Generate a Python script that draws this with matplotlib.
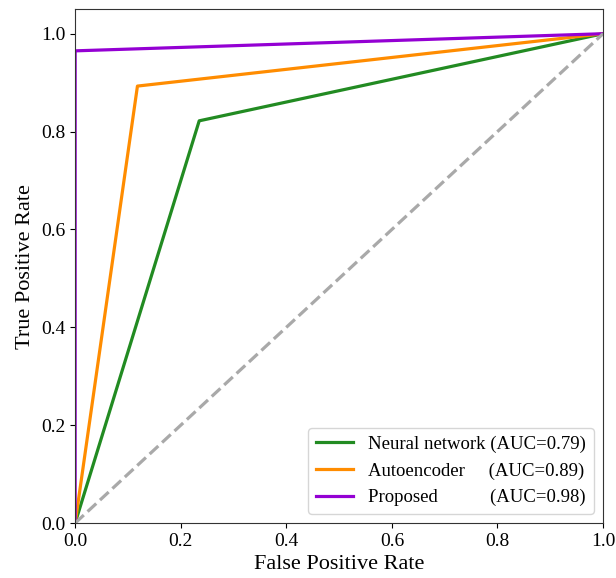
import matplotlib
matplotlib.use("Agg")
import matplotlib.pyplot as plt

plt.rcParams['font.family'] = ['Liberation Serif', 'DejaVu Serif']

# ROC points
nn_fpr = [0.0, 0.235, 1.0]
nn_tpr = [0.0, 0.822, 1.0]
ae_fpr = [0.0, 0.118, 1.0]
ae_tpr = [0.0, 0.893, 1.0]
pr_fpr = [0.0, 0.0, 1.0]
pr_tpr = [0.0, 0.965, 1.0]
labels = ['Neural network (AUC=0.79)',
          'Autoencoder     (AUC=0.89)',
          'Proposed           (AUC=0.98)']

fig, ax = plt.subplots(figsize=(6.16, 5.78), dpi=100)
fig.subplots_adjust(left=0.122, right=0.979, bottom=0.095, top=0.984)

ax.plot(nn_fpr, nn_tpr, color='forestgreen', lw=2.3, label=labels[0])
ax.plot(ae_fpr, ae_tpr, color='darkorange', lw=2.3, label=labels[1])
ax.plot(pr_fpr, pr_tpr, color='darkviolet', lw=2.3, label=labels[2])
ax.plot([0, 1], [0, 1], color='darkgray', lw=2.3, ls='--')

ax.set_xlim(0, 1)
ax.set_ylim(0, 1.05)
ax.set_xlabel('False Positive Rate', fontsize=16)
ax.set_ylabel('True Positive Rate', fontsize=16)
ax.tick_params(labelsize=14)
for s in ax.spines.values():
    s.set_color('#333333')
ax.legend(loc='lower right', fontsize=13.5)

fig.savefig('out.png', dpi=100)
